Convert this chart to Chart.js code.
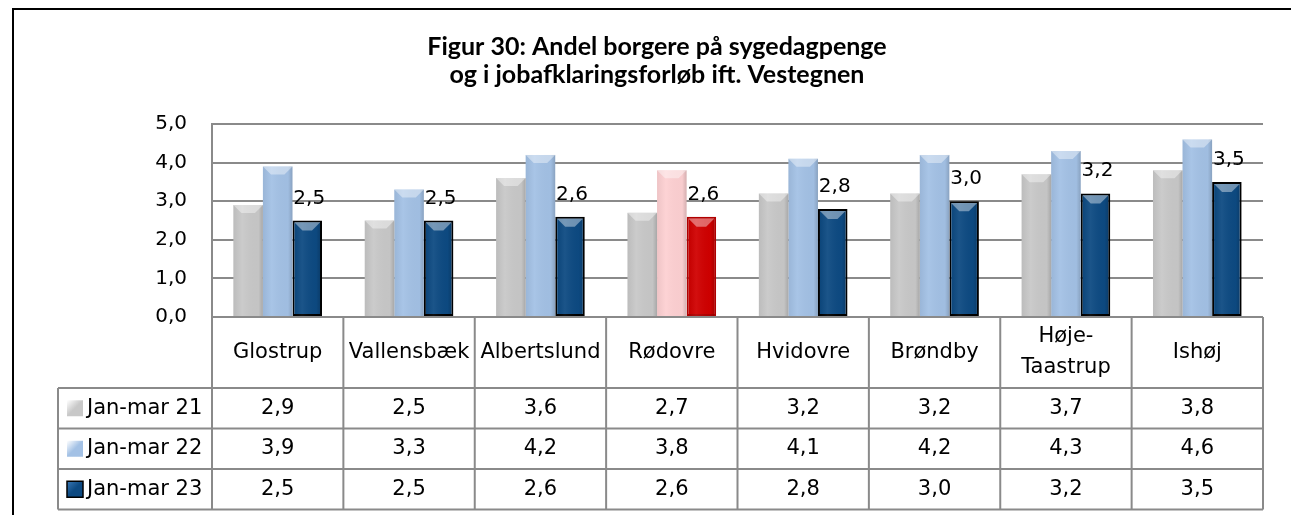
<!DOCTYPE html>
<html>
<head>
<meta charset="utf-8">
<script src="https://cdn.jsdelivr.net/npm/chart.js@4"></script>
<style>
  html, body { margin: 0; padding: 0; background: #fff; }
  canvas { display: block; }
</style>
</head>
<body>
<canvas id="myChart" width="1291" height="515"></canvas>
<script>
// kommuner
const categories = ['Glostrup', 'Vallensbæk', 'Albertslund', 'Rødovre', 'Hvidovre', 'Brøndby', ['Høje-', 'Taastrup'], 'Ishøj'];
const seriesNames = ['Jan-mar 21', 'Jan-mar 22', 'Jan-mar 23'];
const jan21 = [2.9, 2.5, 3.6, 2.7, 3.2, 3.2, 3.7, 3.8];
const jan22 = [3.9, 3.3, 4.2, 3.8, 4.1, 4.2, 4.3, 4.6];
const jan23 = [2.5, 2.5, 2.6, 2.6, 2.8, 3.0, 3.2, 3.5];
const yTicks = [0, 1, 2, 3, 4, 5];
const highlight = 3; // Rødovre

const FONT = '"DejaVu Sans", sans-serif';
const fmt = v => v.toFixed(1).replace('.', ',');

const colGray = '#c8c8c8';
const colLight = '#a3c1e5';
const colDark = '#0d4a82';

// skygge og "facet" i toppen af søjlerne
const bevelPlugin = {
  id: 'bevel',
  afterDatasetsDraw(chart) {
    const c = chart.ctx;
    chart.data.datasets.forEach((ds, di) => {
      chart.getDatasetMeta(di).data.forEach(bar => {
        const bw = di === 2 ? 2 : 0;
        const l = bar.x - bar.width / 2 + bw, r = bar.x + bar.width / 2 - bw;
        const t = bar.y + bw, b = bar.base;
        const g = c.createLinearGradient(l, 0, r, 0);
        g.addColorStop(0, 'rgba(0,0,0,0.06)');
        g.addColorStop(0.3, 'rgba(255,255,255,0.06)');
        g.addColorStop(0.85, 'rgba(0,0,0,0.02)');
        g.addColorStop(1, 'rgba(0,0,0,0.16)');
        c.save();
        c.fillStyle = g;
        c.fillRect(l, t, r - l, b - t);
        // lys top
        const h = 8;
        c.beginPath();
        c.moveTo(l, t); c.lineTo(r, t); c.lineTo(r - h, t + h); c.lineTo(l + h, t + h); c.closePath();
        c.fillStyle = 'rgba(255,255,255,0.4)';
        c.fill();
        c.restore();
      });
    });
  }
};

// datalabels kun for Jan-mar 23
const labelPlugin = {
  id: 'labels23',
  afterDatasetsDraw(chart) {
    const c = chart.ctx;
    c.save();
    c.font = '20px ' + FONT;
    c.fillStyle = '#000';
    c.textAlign = 'center';
    c.textBaseline = 'alphabetic';
    chart.getDatasetMeta(2).data.forEach((bar, i) => {
      c.fillText(fmt(jan23[i]), bar.x + 2, bar.y - 17);
    });
    c.restore();
  }
};

// titel, ramme og datatabel
const tablePlugin = {
  id: 'table',
  afterDraw(chart) {
    const c = chart.ctx;
    const xs = chart.scales.x;
    const area = chart.chartArea;
    const cw = (area.right - area.left) / categories.length;
    const top = area.bottom, hdrBottom = 388;
    const rows = [388, 428.5, 469, 509.5];
    const left = 58;

    c.save();
    // titel
    c.fillStyle = '#000';
    c.textAlign = 'center';
    c.font = 'bold 25px Lato, sans-serif';
    c.fillText('Figur 30: Andel borgere på sygedagpenge', 657, 55);
    c.fillText('og i jobafklaringsforløb ift. Vestegnen', 657, 83);

    // ydre ramme
    c.strokeStyle = '#000';
    c.lineWidth = 2;
    c.beginPath();
    c.moveTo(13, 515); c.lineTo(13, 9); c.lineTo(1291, 9);
    c.stroke();

    // tabel-linjer
    c.strokeStyle = '#8a8a8a';
    c.lineWidth = 2;
    c.beginPath();
    for (let i = 0; i <= categories.length; i++) {
      const x = area.left + i * cw;
      c.moveTo(x, top); c.lineTo(x, rows[3]);
    }
    c.moveTo(left, rows[0]); c.lineTo(left, rows[3]);
    rows.forEach(y => { c.moveTo(left, y); c.lineTo(area.right, y); });
    c.stroke();

    // kategorinavne
    c.font = '21px ' + FONT;
    c.textBaseline = 'middle';
    c.textAlign = 'center';
    categories.forEach((cat, i) => {
      const x = xs.getPixelForValue(i);
      if (Array.isArray(cat)) {
        c.fillText(cat[0], x, 337);
        c.fillText(cat[1], x, 368);
      } else {
        c.fillText(cat, x, (top + hdrBottom) / 2);
      }
    });

    // værdier
    const vals = [jan21, jan22, jan23];
    const icons = [colGray, colLight, colDark];
    vals.forEach((arr, r) => {
      const y = (rows[r] + rows[r + 1]) / 2;
      c.textAlign = 'center';
      arr.forEach((v, i) => c.fillText(fmt(v), xs.getPixelForValue(i), y));
      // legende-ikon
      const g = c.createLinearGradient(67, y - 8, 83, y + 8);
      g.addColorStop(0, r === 2 ? '#3a78b5' : '#ffffff');
      g.addColorStop(0.5, icons[r]);
      g.addColorStop(1, icons[r]);
      c.fillStyle = g;
      c.fillRect(67, y - 8, 16, 16);
      if (r === 2) { c.strokeStyle = '#000'; c.lineWidth = 1.5; c.strokeRect(67, y - 8, 16, 16); }
      c.fillStyle = '#000';
      c.textAlign = 'left';
      c.fillText(seriesNames[r], 87, y);
    });
    c.restore();
  }
};

const ctx = document.getElementById('myChart').getContext('2d');
const myChart = new Chart(ctx, {
  type: 'bar',
  data: {
    labels: categories,
    datasets: [
      {
        label: seriesNames[0],
        data: jan21,
        backgroundColor: colGray,
        borderWidth: 0
      },
      {
        label: seriesNames[1],
        data: jan22,
        backgroundColor: jan22.map((v, i) => i === highlight ? '#fdd0d2' : colLight),
        borderWidth: 0
      },
      {
        label: seriesNames[2],
        data: jan23,
        backgroundColor: jan23.map((v, i) => i === highlight ? '#d00000' : colDark),
        borderColor: jan23.map((v, i) => i === highlight ? '#b00000' : '#000'),
        borderWidth: 2,
        borderSkipped: false
      }
    ]
  },
  options: {
    responsive: false,
    animation: false,
    categoryPercentage: 0.675,
    barPercentage: 1.0,
    layout: { padding: { left: 0, top: 124, right: 28, bottom: 198 } },
    plugins: {
      legend: { display: false },
      title: { display: false },
      tooltip: { enabled: false }
    },
    scales: {
      x: { display: false },
      y: {
        min: 0,
        max: 5,
        afterFit(scale) { scale.width = 212; },
        afterBuildTicks(scale) { scale.ticks = yTicks.map(v => ({ value: v })); },
        ticks: {
          padding: 25,
          color: '#000',
          font: { family: 'DejaVu Sans', size: 20 },
          callback: v => fmt(v)
        },
        grid: { color: '#8a8a8a', lineWidth: 2, drawTicks: false },
        border: { display: true, color: '#8a8a8a', width: 2 }
      }
    }
  },
  plugins: [bevelPlugin, labelPlugin, tablePlugin]
});
</script>
</body>
</html>
